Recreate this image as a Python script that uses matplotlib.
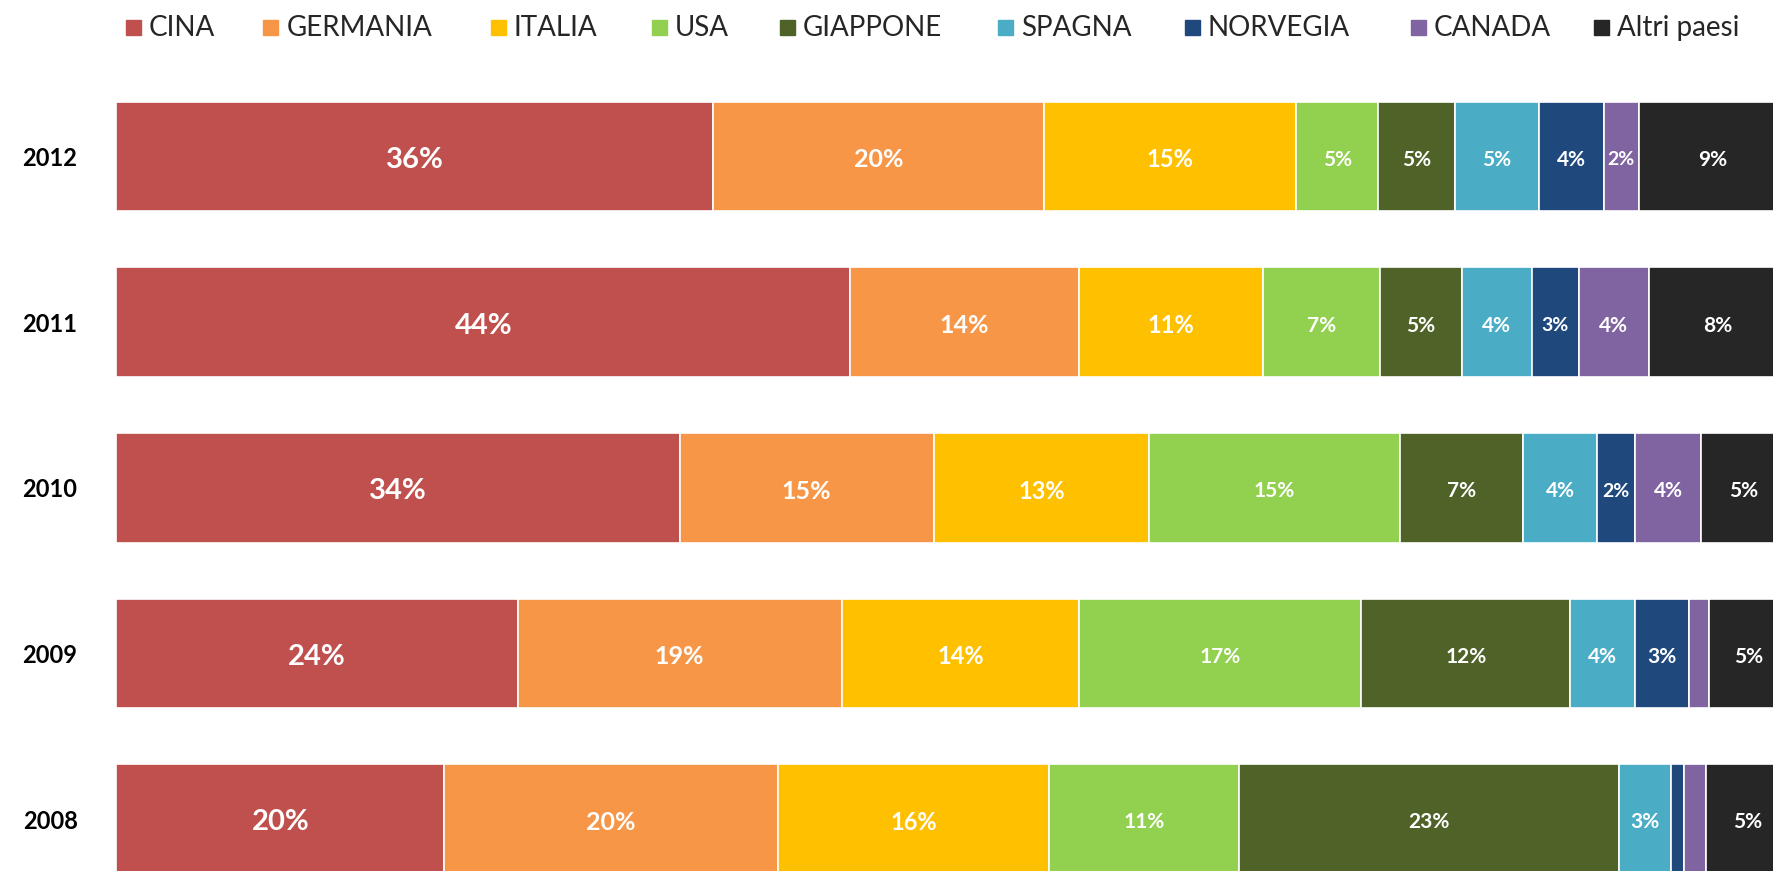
import matplotlib
matplotlib.use("Agg")
import matplotlib.pyplot as plt
from matplotlib.patches import Rectangle
import numpy as np

# ---------------- data ----------------
years = ["2012", "2011", "2010", "2009", "2008"]
countries = ["CINA", "GERMANIA", "ITALIA", "USA", "GIAPPONE",
             "SPAGNA", "NORVEGIA", "CANADA", "Altri paesi"]

cina      = [35.7, 43.9, 33.7, 24.0, 19.6]
germania  = [19.8, 13.7, 15.2, 19.4, 20.0]
italia    = [15.1, 11.0, 12.9, 14.2, 16.2]
usa       = [4.9, 7.0, 15.0, 16.9, 11.4]
giappone  = [4.6, 4.9, 7.4, 12.5, 22.7]
spagna    = [5.0, 4.2, 4.4, 3.9, 3.1]
norvegia  = [3.9, 2.8, 2.3, 3.2, 0.8]
canada    = [2.1, 4.2, 3.9, 1.2, 1.3]
altri     = [8.9, 8.3, 5.2, 4.7, 5.0]

series = [cina, germania, italia, usa, giappone, spagna, norvegia, canada, altri]

# ---------------- style ----------------
colors = ["#C0504D", "#F79646", "#FFC000", "#92D050", "#4F6228",
          "#4BACC6", "#1F497D", "#8064A2", "#262626"]
label_sizes = [21, 18, 17, 15, 15, 15, 15, 15, 15]
FONT = ["Lato", "DejaVu Sans"]
plt.rcParams["font.family"] = FONT

W, H = 1774, 871
fig = plt.figure(figsize=(W / 100, H / 100), dpi=100)
fig.patch.set_facecolor("white")

left_px = 116.5
full_px = 1671.0
ax = fig.add_axes([left_px / W, 0, 1 - left_px / W, 1])
ax.set_xlim(0, 100 * (W - left_px) / full_px)
ax.set_ylim(-0.314, 4.946)
ax.set_facecolor("none")
for s in ax.spines.values():
    s.set_visible(False)

ypos = np.arange(len(years))[::-1]  # 2012 at top
bar_h = 0.662
cum = np.zeros(len(years))
for vals, col, fs in zip(series, colors, label_sizes):
    vals = np.array(vals)
    ax.barh(ypos, vals, left=cum, height=bar_h, color=col,
            edgecolor="white", linewidth=1.2)
    for y, l, v in zip(ypos, cum, vals):
        lab = f"{round(v)}%"
        if v >= 1.5:
            size = fs if v >= 3 else 14
            ax.text(l + v / 2, y - 0.02, lab, ha="center", va="center",
                    color="white", fontsize=size, fontweight="bold")
    cum += vals

ax.set_yticks(ypos)
ax.set_yticklabels(years, fontsize=17, fontweight="bold", color="black")
ax.tick_params(axis="y", length=0, pad=28)
ax.set_xticks([])

# ---------------- legend ----------------
leg_x = [125.7, 263.4, 491, 651.7, 780, 998, 1184.7, 1410.7, 1594]
sq = 15
for x, name, col in zip(leg_x, countries, colors):
    fig.patches.append(Rectangle((x / W, (H - 35) / H), sq / W, sq / H,
                                 transform=fig.transFigure, color=col,
                                 figure=fig))
    fig.text((x + sq + 8) / W, (H - 36) / H, name, fontsize=20,
             color="#262626", va="baseline", ha="left")

fig.savefig("out.png", dpi=100, facecolor="white")
